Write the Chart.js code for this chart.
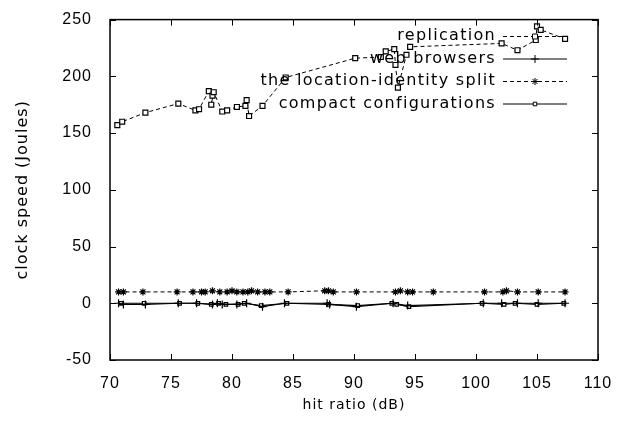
<!DOCTYPE html>
<html>
<head>
<meta charset="utf-8">
<script src="https://cdn.jsdelivr.net/npm/chart.js@4"></script>
<style>
  html, body { margin: 0; padding: 0; background: #fff; }
  #wrap { width: 630px; height: 432px; }
</style>
</head>
<body>
<div id="wrap"><canvas id="chart" width="630" height="432"></canvas></div>
<script>
// series values
const replicationX = [70.6, 71.0, 72.9, 75.6, 77.0, 77.3, 78.1, 78.4, 78.3, 78.5, 79.2, 79.6, 80.4, 81.1, 81.2, 81.4, 82.5, 84.4, 90.1, 92.2, 92.6, 93.3, 93.4, 93.6, 94.3, 94.6, 102.1, 103.4, 104.9, 105.0, 105.3, 107.3];
const replicationY = [157, 160, 168, 176, 170, 171, 187, 183, 175, 186, 169, 170, 173, 174, 179, 165, 174, 199, 216, 217, 222, 224, 210, 190, 219, 226, 229, 223, 232, 244, 241, 233];

const browsersX = [70.7, 71.1, 72.9, 75.6, 77.1, 78.4, 78.8, 79.2, 80.4, 81.2, 82.5, 84.3, 87.8, 88.0, 90.2, 93.2, 94.4, 100.6, 102.1, 103.4, 105.1, 107.3];
const browsersY = [0, -1, -1, 0, 0, -1, 0, -1, -1, 0, -3, 0, 0, -1, -3, 0, -2, 0, 0, 0, 0, 0];

const splitX = [70.7, 71.1, 72.7, 75.5, 76.8, 77.5, 77.8, 78.4, 79.0, 79.6, 80.0, 80.4, 80.9, 81.3, 81.6, 82.1, 82.7, 83.1, 84.6, 87.6, 87.9, 88.3, 90.2, 93.4, 93.8, 94.4, 94.8, 96.5, 100.7, 102.2, 102.5, 103.4, 105.1, 107.3];
const splitY = [10, 10, 10, 10, 10, 10, 10, 11, 10, 10, 11, 10, 10, 10, 11, 10, 10, 10, 10, 11, 11, 10, 10, 10, 11, 10, 10, 10, 10, 10, 11, 10, 10, 10];

const compactX = [70.9, 72.8, 75.7, 77.2, 78.3, 78.9, 79.5, 80.5, 81.0, 82.4, 84.5, 87.9, 90.3, 93.1, 93.5, 94.5, 100.5, 102.3, 103.2, 105.0, 107.2];
const compactY = [0, 0, 0, 0, -1, 0, -1, -1, 0, -2, 0, -1, -2, 0, -1, -3, 0, -1, 0, -1, 0];

const labels = ['replication', 'web browsers', 'the location-identity split', 'compact configurations'];
const yTicks = [-50, 0, 50, 100, 150, 200, 250];
const xTicks = [70, 75, 80, 85, 90, 95, 100, 105, 110];

const pts = (xs, ys) => xs.map((x, i) => ({ x: x, y: ys[i] }));

const FONT = '"DejaVu Sans", Verdana, sans-serif';
const TICKFONT = '"Liberation Sans", Arial, sans-serif';

// wide letter spacing, like the bitmap font of the original
const spacing = {
    id: 'spacing',
    beforeDraw(chart) { chart.ctx.letterSpacing = '1px'; }
};

// gnuplot style frame with inward ticks on all four sides
const frame = {
    id: 'frame',
    afterDraw(chart) {
        const { ctx, chartArea: a, scales } = chart;
        ctx.save();
        ctx.strokeStyle = '#000';
        ctx.lineWidth = 1.5;
        ctx.strokeRect(a.left, a.top, a.right - a.left, a.bottom - a.top);
        ctx.lineWidth = 1;
        ctx.beginPath();
        xTicks.forEach(v => {
            const px = Math.round(scales.x.getPixelForValue(v)) + 0.5;
            ctx.moveTo(px, a.bottom); ctx.lineTo(px, a.bottom - 6);
            ctx.moveTo(px, a.top); ctx.lineTo(px, a.top + 6);
        });
        yTicks.forEach(v => {
            const py = Math.round(scales.y.getPixelForValue(v)) + 0.5;
            ctx.moveTo(a.left, py); ctx.lineTo(a.left + 6, py);
            ctx.moveTo(a.right, py); ctx.lineTo(a.right - 6, py);
        });
        ctx.stroke();
        ctx.restore();
    }
};

// key in the top right, text right aligned then a line sample
const key = {
    id: 'key',
    afterDatasetsDraw(chart) {
        const { ctx } = chart;
        ctx.save();
        ctx.font = '16px ' + FONT;
        ctx.letterSpacing = '1.3px';
        ctx.textAlign = 'right';
        ctx.textBaseline = 'middle';
        chart.data.datasets.forEach((ds, i) => {
            const y = 36 + i * 22.5;
            ctx.fillStyle = '#000';
            ctx.fillText(ds.label, 496, y);
            ctx.strokeStyle = '#000';
            ctx.lineWidth = 1;
            ctx.setLineDash(ds.borderDash || []);
            ctx.beginPath();
            ctx.moveTo(503, y + 0.5);
            ctx.lineTo(567, y + 0.5);
            ctx.stroke();
            ctx.setLineDash([]);
            ctx.fillStyle = ds.pointBackgroundColor || '#000';
            Chart.helpers.drawPoint(ctx, {
                pointStyle: ds.pointStyle,
                radius: ds.pointRadius,
                borderWidth: 1,
                rotation: 0
            }, 535, y + 0.5);
        });
        ctx.restore();
    }
};

const ctx = document.getElementById('chart').getContext('2d');
const chart = new Chart(ctx, {
    type: 'line',
    data: {
        datasets: [
            {
                label: labels[0],
                data: pts(replicationX, replicationY),
                borderColor: '#000',
                borderWidth: 1,
                borderDash: [4, 3],
                pointStyle: 'rect',
                pointRadius: 3.5,
                pointBorderColor: '#000',
                pointBackgroundColor: '#fff',
                pointBorderWidth: 1.2
            },
            {
                label: labels[1],
                data: pts(browsersX, browsersY),
                borderColor: '#000',
                borderWidth: 1.2,
                pointStyle: 'cross',
                pointRadius: 4,
                pointBorderColor: '#000',
                pointBorderWidth: 1.2
            },
            {
                label: labels[2],
                data: pts(splitX, splitY),
                borderColor: '#000',
                borderWidth: 1,
                borderDash: [4, 3],
                pointStyle: 'star',
                pointRadius: 3.5,
                pointBorderColor: '#000',
                pointBorderWidth: 1.2
            },
            {
                label: labels[3],
                data: pts(compactX, compactY),
                borderColor: '#000',
                borderWidth: 1.2,
                pointStyle: 'rect',
                pointRadius: 2.5,
                pointBorderColor: '#000',
                pointBackgroundColor: '#fff',
                pointBorderWidth: 1.2
            }
        ]
    },
    options: {
        responsive: false,
        animation: false,
        layout: { padding: { top: 18, right: 32, left: 0, bottom: 0 } },
        plugins: {
            legend: { display: false },
            tooltip: { enabled: false }
        },
        scales: {
            x: {
                type: 'linear',
                min: 70,
                max: 110,
                afterBuildTicks: s => { s.ticks = xTicks.map(v => ({ value: v })); },
                afterFit: s => { s.height = 72; },
                grid: { display: false },
                border: { display: false },
                ticks: { color: '#000', font: { family: TICKFONT, size: 16 }, padding: 6, maxRotation: 0, autoSkip: false },
                title: { display: true, text: 'hit ratio (dB)', color: '#000', font: { family: FONT, size: 14 }, padding: { top: 0, bottom: 18 } }
            },
            y: {
                min: -50,
                max: 250,
                afterBuildTicks: s => { s.ticks = yTicks.map(v => ({ value: v })); },
                afterFit: s => { s.width = 110; },
                grid: { display: false },
                border: { display: false },
                ticks: { color: '#000', font: { family: TICKFONT, size: 16 }, padding: 10 },
                title: { display: true, text: 'clock speed (Joules)', color: '#000', font: { family: FONT, size: 16 }, padding: { top: 13, bottom: 0 } }
            }
        }
    },
    plugins: [spacing, frame, key]
});
</script>
</body>
</html>
